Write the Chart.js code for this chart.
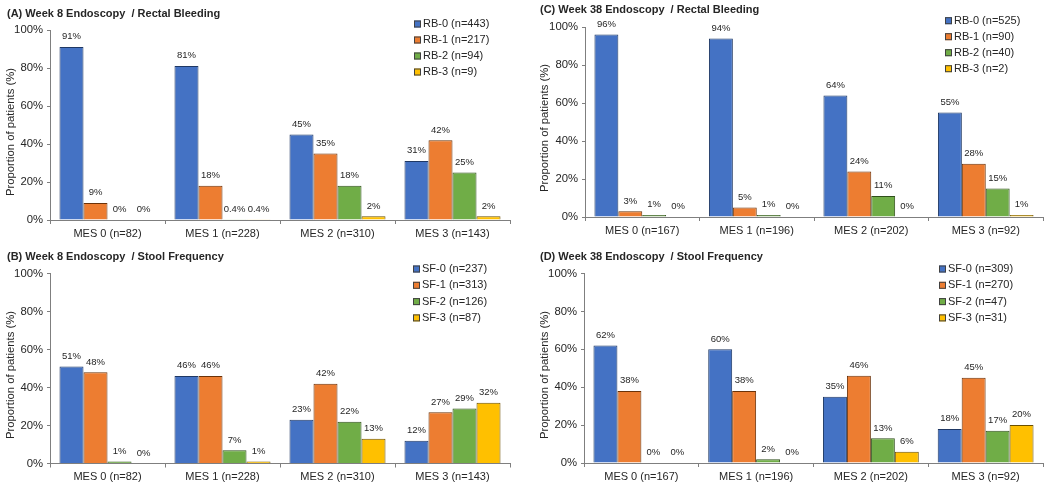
<!DOCTYPE html>
<html>
<head>
<meta charset="utf-8">
<script src="https://cdn.jsdelivr.net/npm/chart.js@4.4.1/dist/chart.umd.min.js"></script>
<style>
  html, body { margin: 0; padding: 0; background: #fff; }
  #wrap { position: relative; width: 1050px; height: 488px; }
  .panel { position: absolute; width: 525px; height: 244px; }
</style>
</head>
<body>
<div id="wrap">
  <div class="panel" style="left:0;top:0"><canvas id="chartA" width="525" height="244"></canvas></div>
  <div class="panel" style="left:0;top:244px"><canvas id="chartB" width="525" height="244"></canvas></div>
  <div class="panel" style="left:525px;top:0"><canvas id="chartC" width="525" height="244"></canvas></div>
  <div class="panel" style="left:525px;top:244px"><canvas id="chartD" width="525" height="244"></canvas></div>
</div>
<script>
// categories
const mesWeek8 = ['MES 0 (n=82)', 'MES 1 (n=228)', 'MES 2 (n=310)', 'MES 3 (n=143)'];
const mesWeek38 = ['MES 0 (n=167)', 'MES 1 (n=196)', 'MES 2 (n=202)', 'MES 3 (n=92)'];

// (A) week 8 / rectal bleeding
const rbNamesW8 = ['RB-0 (n=443)', 'RB-1 (n=217)', 'RB-2 (n=94)', 'RB-3 (n=9)'];
const rb0W8 = [91, 81, 45, 31];
const rb1W8 = [9, 18, 35, 42];
const rb2W8 = [0, 0.4, 18, 25];
const rb3W8 = [0, 0.4, 2, 2];

// (B) week 8 / stool frequency
const sfNamesW8 = ['SF-0 (n=237)', 'SF-1 (n=313)', 'SF-2 (n=126)', 'SF-3 (n=87)'];
const sf0W8 = [51, 46, 23, 12];
const sf1W8 = [48, 46, 42, 27];
const sf2W8 = [1, 7, 22, 29];
const sf3W8 = [0, 1, 13, 32];

// (C) week 38 / rectal bleeding
const rbNamesW38 = ['RB-0 (n=525)', 'RB-1 (n=90)', 'RB-2 (n=40)', 'RB-3 (n=2)'];
const rb0W38 = [96, 94, 64, 55];
const rb1W38 = [3, 5, 24, 28];
const rb2W38 = [1, 1, 11, 15];
const rb3W38 = [0, 0, 0, 1];

// (D) week 38 / stool frequency
const sfNamesW38 = ['SF-0 (n=309)', 'SF-1 (n=270)', 'SF-2 (n=47)', 'SF-3 (n=31)'];
const sf0W38 = [62, 60, 35, 18];
const sf1W38 = [38, 38, 46, 45];
const sf2W38 = [0, 2, 13, 17];
const sf3W38 = [0, 0, 6, 20];

const yTickValues = [0, 20, 40, 60, 80, 100];
const yTitle = 'Proportion of patients (%)';

const fills = ['#4472C4', '#ED7D31', '#70AD47', '#FFC000'];
const edges = ['#1F3864', '#6B3208', '#2F4F1B', '#6B5000'];
const FONT = '"Liberation Sans", Arial, sans-serif';
const TEXT = '#262626';
const AXIS = '#7f7f7f';

// titles, axis title, data labels and the legend box drawn on the canvas
const panelDecor = {
    id: 'panelDecor',
    afterDatasetsDraw(chart, args, o) {
        const ctx = chart.ctx;
        ctx.save();
        ctx.fillStyle = TEXT;
        ctx.font = '9.5px ' + FONT;
        ctx.textAlign = 'center';
        ctx.textBaseline = 'bottom';
        chart.data.datasets.forEach((ds, i) => {
            chart.getDatasetMeta(i).data.forEach((bar, j) => {
                ctx.fillText(ds.data[j] + '%', bar.x, bar.y - 5.5);
            });
        });

        // y axis title
        ctx.save();
        ctx.font = '11.3px ' + FONT;
        ctx.textBaseline = 'middle';
        ctx.translate(o.ytX, o.ytY);
        ctx.rotate(-Math.PI / 2);
        ctx.fillText(yTitle, 0, 0);
        ctx.restore();

        ctx.font = 'bold 11px ' + FONT;
        ctx.textAlign = 'left';
        ctx.textBaseline = 'middle';
        ctx.fillText(o.title, o.titleX, o.titleY);

        ctx.font = '11px ' + FONT;
        chart.data.datasets.forEach((ds, i) => {
            const y = o.legY + i * o.legStep;
            ctx.fillStyle = ds.backgroundColor;
            ctx.fillRect(o.legX, y - 3.5, 7, 7);
            ctx.strokeStyle = '#404040';
            ctx.lineWidth = 1;
            ctx.strokeRect(o.legX + 0.5, y - 3, 6, 6);
            ctx.fillStyle = TEXT;
            ctx.fillText(ds.label, o.legX + 9, y);
        });
        ctx.restore();
    }
};

function makeChart(id, cats, names, series, p) {
    const datasets = series.map((vals, i) => ({
        label: names[i],
        data: vals,
        backgroundColor: fills[i],
        borderColor: edges[i],
        borderWidth: 1,
        categoryPercentage: 0.835,
        barPercentage: 1
    }));
    return new Chart(document.getElementById(id), {
        type: 'bar',
        data: { labels: cats, datasets },
        options: {
            responsive: false,
            animation: false,
            layout: { padding: { top: p.top, right: 525 - p.right, left: 0, bottom: 0 } },
            plugins: {
                legend: { display: false },
                tooltip: { enabled: false },
                panelDecor: {
                    title: p.title, titleX: p.titleX, titleY: p.titleY,
                    legX: p.legX, legY: p.legY, legStep: p.legStep,
                    ytX: p.ytX, ytY: p.ytY
                }
            },
            scales: {
                x: {
                    grid: { drawOnChartArea: false, offset: true, tickLength: 4, color: AXIS },
                    border: { color: AXIS },
                    ticks: { color: TEXT, padding: 3, font: { family: FONT, size: 11 } },
                    afterFit: s => { s.height = 244 - p.bottom; }
                },
                y: {
                    min: 0,
                    max: 100,
                    afterBuildTicks: s => { s.ticks = yTickValues.map(v => ({ value: v })); },
                    grid: { drawOnChartArea: false, tickLength: 3, color: AXIS },
                    border: { color: AXIS },
                    ticks: { color: TEXT, padding: 4, callback: v => v + '%', font: { family: FONT, size: 11.3 } },
                    afterFit: s => { s.width = p.left; }
                }
            }
        },
        plugins: [panelDecor]
    });
}

makeChart('chartA', mesWeek8, rbNamesW8, [rb0W8, rb1W8, rb2W8, rb3W8], {
    left: 50, top: 30, right: 510, bottom: 220, ytX: 10.5, ytY: 132,
    title: '(A) Week 8 Endoscopy  / Rectal Bleeding', titleX: 7, titleY: 14,
    legX: 414, legY: 24, legStep: 16
});
makeChart('chartB', mesWeek8, sfNamesW8, [sf0W8, sf1W8, sf2W8, sf3W8], {
    left: 50, top: 29.5, right: 510, bottom: 219.5, ytX: 10.5, ytY: 131,
    title: '(B) Week 8 Endoscopy  / Stool Frequency', titleX: 7, titleY: 12.5,
    legX: 413, legY: 25, legStep: 16.3
});
makeChart('chartC', mesWeek38, rbNamesW38, [rb0W38, rb1W38, rb2W38, rb3W38], {
    left: 60, top: 27, right: 518, bottom: 217, ytX: 20, ytY: 128,
    title: '(C) Week 38 Endoscopy  / Rectal Bleeding', titleX: 15, titleY: 10,
    legX: 420, legY: 20.7, legStep: 16
});
makeChart('chartD', mesWeek38, sfNamesW38, [sf0W38, sf1W38, sf2W38, sf3W38], {
    left: 59, top: 29.5, right: 518, bottom: 219, ytX: 19.5, ytY: 131,
    title: '(D) Week 38 Endoscopy  / Stool Frequency', titleX: 15, titleY: 12.5,
    legX: 414, legY: 25, legStep: 16.3
});
</script>
</body>
</html>
